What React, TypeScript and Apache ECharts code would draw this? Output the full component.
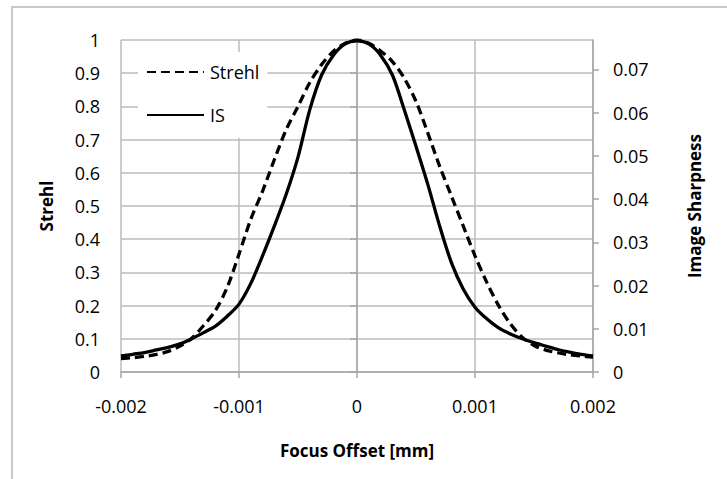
import React, { useEffect, useRef } from "react";
import * as echarts from "echarts";

const focusOffset = [
  -0.002, -0.0019, -0.0018, -0.0017, -0.0016, -0.0015, -0.0014, -0.0013, -0.0012, -0.0011,
  -0.001, -0.0009, -0.0008, -0.0007, -0.0006, -0.0005, -0.0004, -0.0003, -0.0002, -0.0001,
  0,
  0.0001, 0.0002, 0.0003, 0.0004, 0.0005, 0.0006, 0.0007, 0.0008, 0.0009, 0.001,
  0.0011, 0.0012, 0.0013, 0.0014, 0.0015, 0.0016, 0.0017, 0.0018, 0.0019, 0.002,
];

const strehl = [
  0.04, 0.043, 0.047, 0.053, 0.062, 0.078, 0.102, 0.14, 0.185, 0.255,
  0.355, 0.46, 0.545, 0.64, 0.73, 0.8, 0.872, 0.926, 0.966, 0.99,
  1.0,
  0.99, 0.967, 0.935, 0.885, 0.815, 0.72, 0.62, 0.53, 0.44, 0.35,
  0.27, 0.2, 0.145, 0.105, 0.08, 0.066, 0.058, 0.052, 0.048, 0.045,
];

const imageSharpness = [
  0.0037, 0.0041, 0.0045, 0.0051, 0.0057, 0.0065, 0.0077, 0.0091, 0.0106, 0.0129,
  0.0157, 0.0205, 0.0269, 0.0338, 0.0411, 0.0497, 0.0607, 0.0687, 0.0733, 0.0759,
  0.0766,
  0.0759, 0.0733, 0.0687, 0.0607, 0.0522, 0.0434, 0.0338, 0.0253, 0.0192, 0.015,
  0.0123, 0.0102, 0.0088, 0.0077, 0.0068, 0.006, 0.0052, 0.0046, 0.0041, 0.0037,
];

const leftTicks = [0, 0.1, 0.2, 0.3, 0.4, 0.5, 0.6, 0.7, 0.8, 0.9, 1];
const rightTicks = [0, 0.01, 0.02, 0.03, 0.04, 0.05, 0.06, 0.07];
const rightMax = 0.0768;

const FONT = "'Open Sans', 'Noto Sans', sans-serif";
const GRID = "#bdbdbd";
const AXIS = "#a6a6a6";

export default function App() {
  const ref = useRef<HTMLDivElement>(null);

  useEffect(() => {
    document.body.style.margin = "0";
    if (!ref.current) return;
    const chart = echarts.init(ref.current, undefined, { renderer: "svg" });

    const labelStyle = { color: "#000", fontFamily: FONT, fontSize: 18 };
    const nameStyle = { color: "#000", fontFamily: FONT, fontSize: 17, fontWeight: "bold" as const };

    chart.setOption({
      animation: false,
      backgroundColor: "#fff",
      graphic: [
        {
          type: "rect",
          silent: true,
          z: -1,
          shape: { x: 12, y: 7, width: 760, height: 520 },
          style: { fill: "none", stroke: "#c9c9c9", lineWidth: 2 },
        },
      ],
      grid: { left: 121, right: 134, top: 40, bottom: 107, containLabel: false },
      legend: {
        orient: "vertical",
        left: 138,
        top: 52,
        padding: [11, 8, 14, 8],
        itemWidth: 57,
        itemHeight: 14,
        itemGap: 25,
        backgroundColor: "#fff",
        itemStyle: { opacity: 0 },
        textStyle: { color: "#000", fontFamily: FONT, fontSize: 18, padding: [0, 0, 0, 1] },
        data: ["Strehl", "IS"],
      },
      xAxis: {
        type: "value",
        min: -0.002,
        max: 0.002,
        interval: 0.001,
        name: "Focus Offset [mm]",
        nameLocation: "middle",
        nameGap: 70,
        nameTextStyle: nameStyle,
        axisLine: { show: true, lineStyle: { color: AXIS, width: 1.5 } },
        axisTick: { show: true, inside: false, length: 6, lineStyle: { color: AXIS, width: 1.5 } },
        axisLabel: { ...labelStyle, margin: 25, formatter: (v: number) => String(+v.toFixed(4)) },
        splitLine: { show: true, lineStyle: { color: GRID, width: 1.5 } },
      },
      yAxis: [
        {
          type: "value",
          min: 0,
          max: 1,
          interval: 0.1,
          name: "Strehl",
          nameLocation: "middle",
          nameRotate: 90,
          nameGap: 66,
          nameTextStyle: nameStyle,
          axisLine: { show: true, lineStyle: { color: AXIS, width: 1.5 } },
          axisTick: { show: true, inside: false, length: 7, lineStyle: { color: AXIS, width: 1.5 } },
          axisLabel: {
            ...labelStyle,
            margin: 21,
            customValues: leftTicks,
            formatter: (v: number) => String(+v.toFixed(2)),
          },
          splitLine: { show: true, lineStyle: { color: GRID, width: 1.5 } },
        },
        {
          type: "value",
          min: 0,
          max: rightMax,
          interval: 0.01,
          position: "right",
          name: "Image Sharpness",
          nameLocation: "middle",
          nameRotate: 90,
          nameGap: 93,
          nameTextStyle: nameStyle,
          axisLine: { show: true, lineStyle: { color: AXIS, width: 1.5 } },
          axisTick: {
            show: true,
            inside: false,
            length: 6,
            customValues: rightTicks,
            lineStyle: { color: AXIS, width: 1.5 },
          },
          axisLabel: {
            ...labelStyle,
            margin: 20,
            customValues: rightTicks,
            formatter: (v: number) => String(+v.toFixed(3)),
          },
          splitLine: { show: false },
        },
      ],
      series: [
        {
          name: "Strehl",
          type: "line",
          yAxisIndex: 0,
          symbol: "none",
          smooth: 0.3,
          lineStyle: { color: "#000", width: 3.3, type: [9, 5] },
          itemStyle: { color: "#000" },
          data: focusOffset.map((x, i) => [x, strehl[i]]),
        },
        {
          name: "IS",
          type: "line",
          yAxisIndex: 1,
          symbol: "none",
          smooth: 0.3,
          lineStyle: { color: "#000", width: 3.3, type: "solid" },
          itemStyle: { color: "#000" },
          data: focusOffset.map((x, i) => [x, imageSharpness[i]]),
        },
      ],
    });

    return () => chart.dispose();
  }, []);

  return <div ref={ref} style={{ width: 727, height: 479 }} />;
}
